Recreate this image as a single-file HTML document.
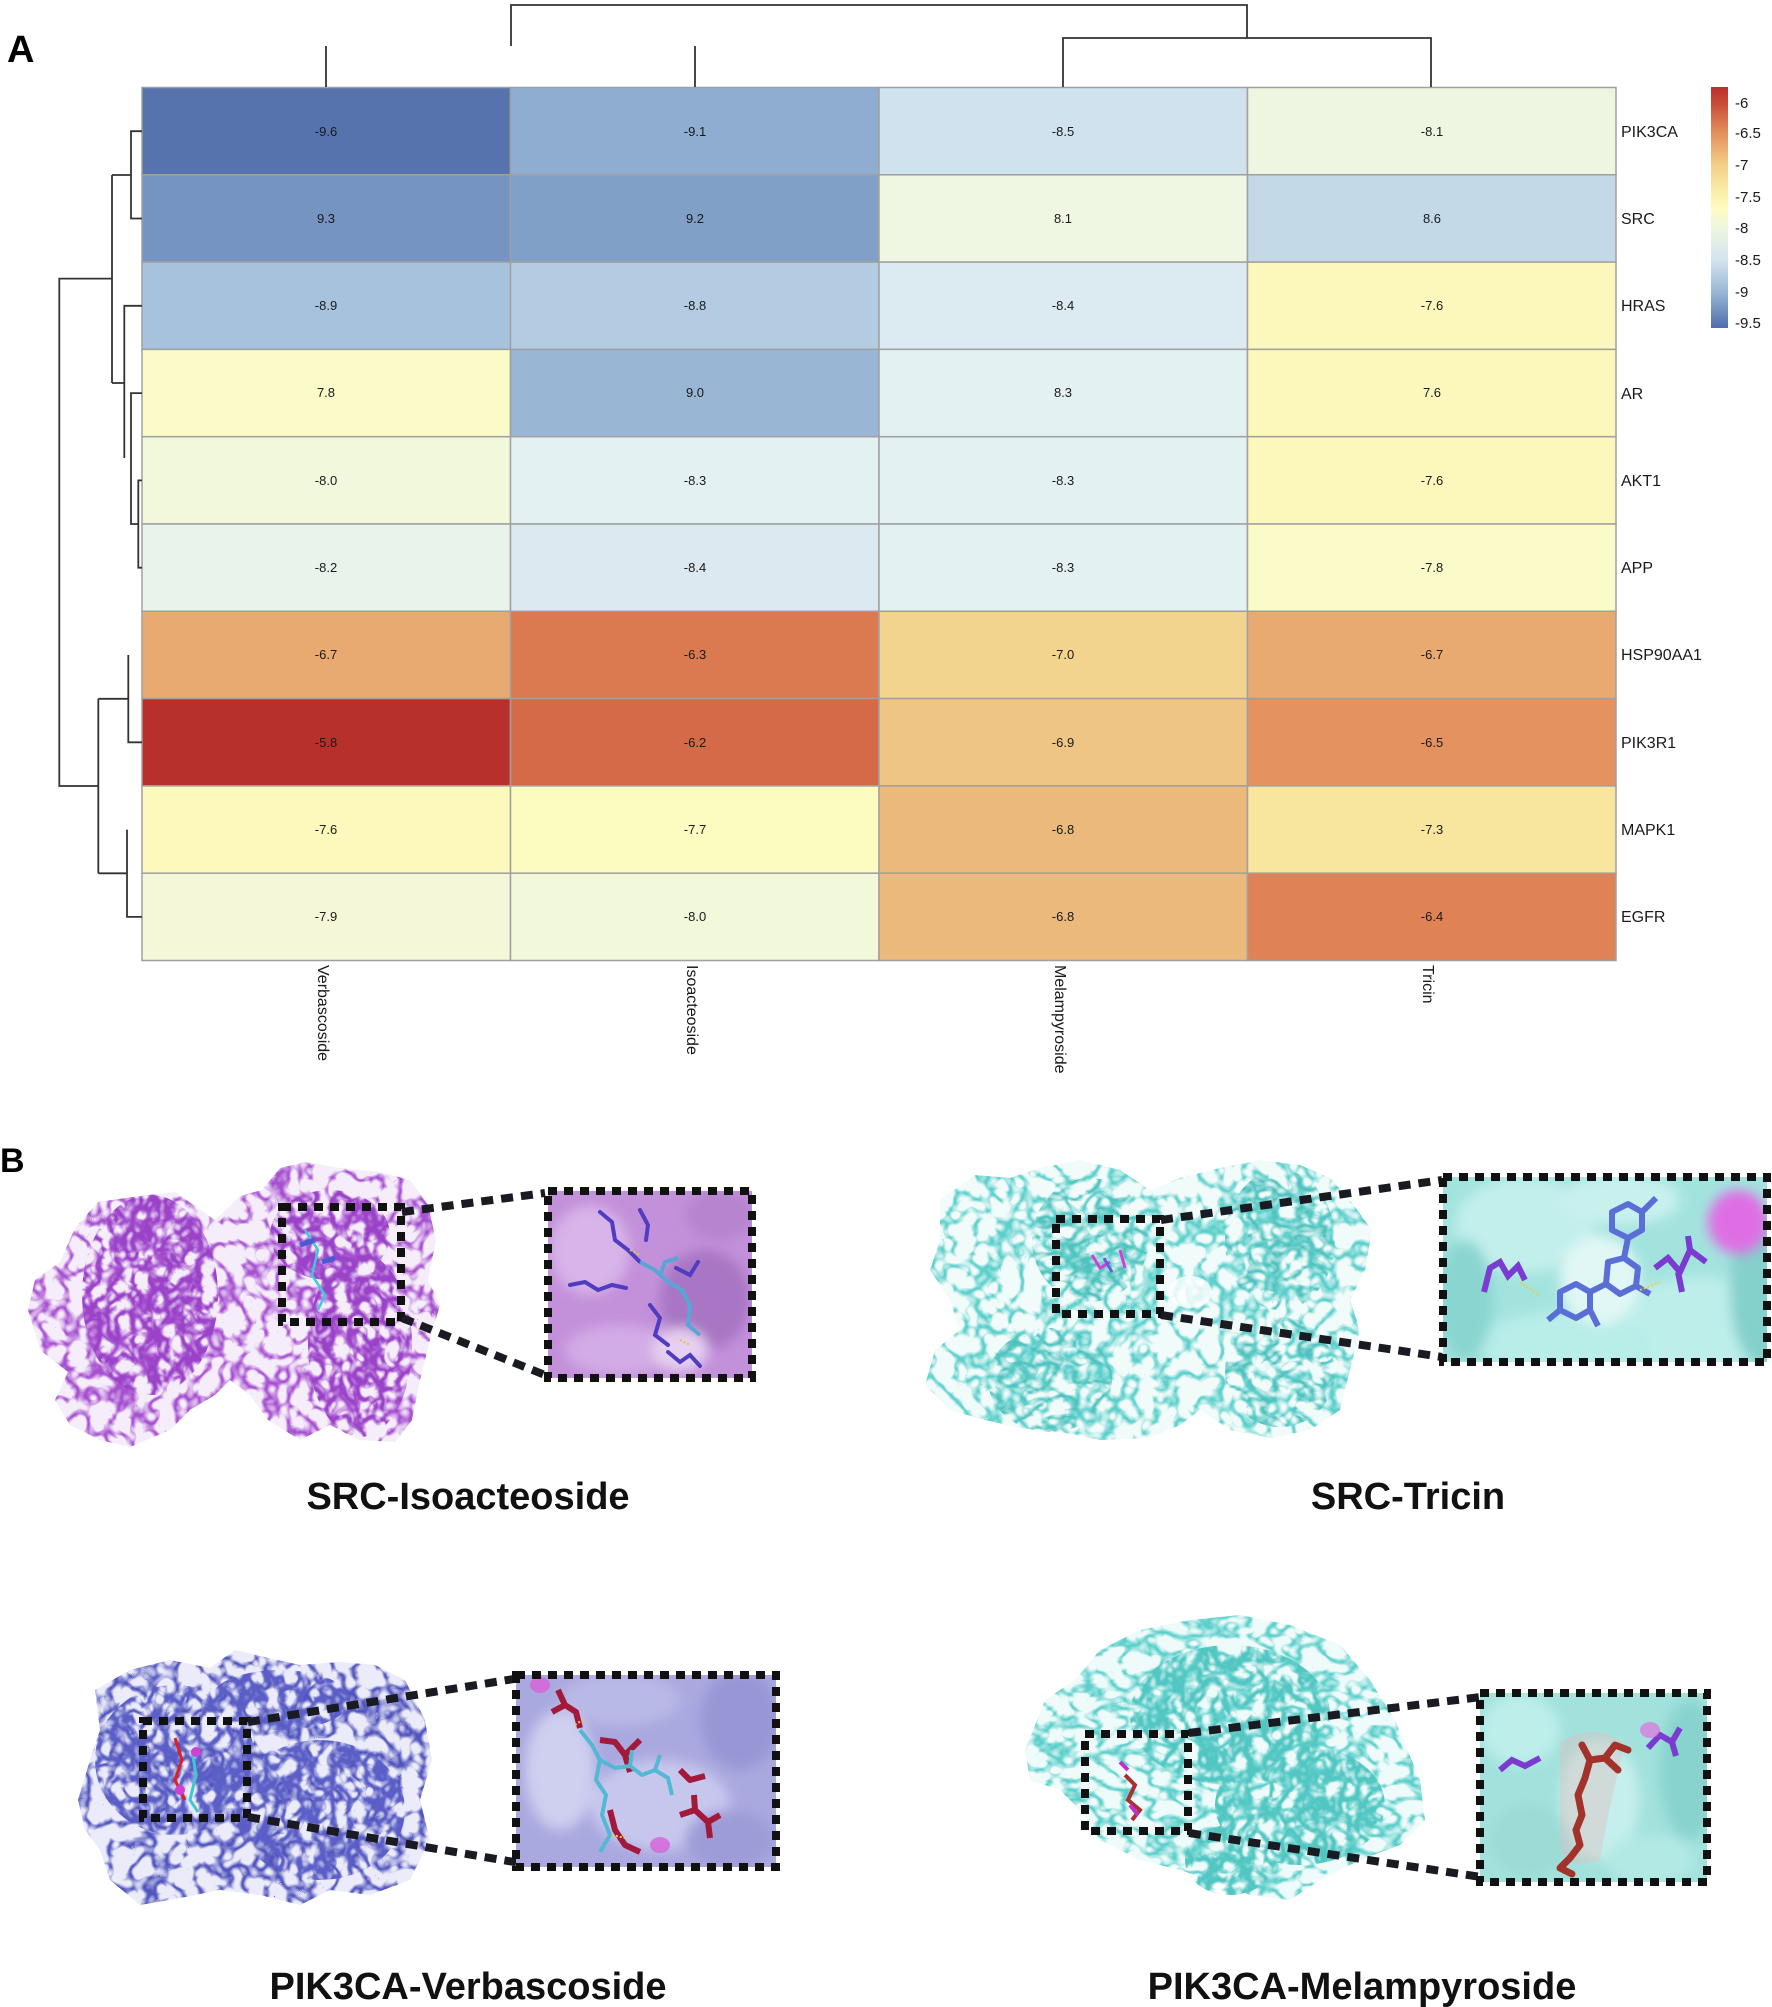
<!DOCTYPE html>
<html><head><meta charset="utf-8"><style>
html,body{margin:0;padding:0;background:#fff;}
svg{display:block;}
text{font-family:"Liberation Sans",Arial,sans-serif;}
</style></head><body>
<svg width="1772" height="2007" viewBox="0 0 1772 2007" xmlns="http://www.w3.org/2000/svg">
<defs>
<linearGradient id="cb" x1="0" y1="0" x2="0" y2="1">
<stop offset="0" stop-color="#b8302b"/><stop offset="0.066" stop-color="#c84a35"/>
<stop offset="0.19" stop-color="#e3905c"/><stop offset="0.324" stop-color="#f4cf88"/>
<stop offset="0.456" stop-color="#fdf3b0"/><stop offset="0.506" stop-color="#fdfcc2"/>
<stop offset="0.585" stop-color="#eef6e0"/><stop offset="0.718" stop-color="#d3e4ef"/>
<stop offset="0.85" stop-color="#9ab7d6"/><stop offset="1" stop-color="#4f6dab"/>
</linearGradient>
<filter id="r1" x="-5%" y="-5%" width="110%" height="110%" color-interpolation-filters="sRGB">
<feTurbulence type="turbulence" baseFrequency="0.045" numOctaves="2" seed="3" result="t"/>
<feColorMatrix in="t" type="matrix" values="0 0 0 0 0 0 0 0 0 0 0 0 0 0 0 -4.5 0 0 0 1.2" result="m"/>
<feComposite in="SourceGraphic" in2="m" operator="in"/>
</filter>
<filter id="r2" x="-5%" y="-5%" width="110%" height="110%" color-interpolation-filters="sRGB">
<feTurbulence type="turbulence" baseFrequency="0.06 0.05" numOctaves="2" seed="11" result="t"/>
<feColorMatrix in="t" type="matrix" values="0 0 0 0 0 0 0 0 0 0 0 0 0 0 0 0 -4 0 0 1.45" result="m"/>
<feComposite in="SourceGraphic" in2="m" operator="in"/>
</filter>
<filter id="r3" x="-5%" y="-5%" width="110%" height="110%" color-interpolation-filters="sRGB">
<feTurbulence type="turbulence" baseFrequency="0.04 0.055" numOctaves="2" seed="21" result="t"/>
<feColorMatrix in="t" type="matrix" values="0 0 0 0 0 0 0 0 0 0 0 0 0 0 0 -4.5 0 0 0 1.2" result="m"/>
<feComposite in="SourceGraphic" in2="m" operator="in"/>
</filter>
<filter id="sf" x="-20%" y="-20%" width="140%" height="140%"><feGaussianBlur stdDeviation="6"/></filter>
<clipPath id="c1"><rect x="548" y="1191" width="204" height="187"/></clipPath>
<clipPath id="c2"><rect x="1443" y="1177" width="324" height="185"/></clipPath>
<clipPath id="c3"><rect x="516" y="1675" width="260" height="192"/></clipPath>
<clipPath id="c4"><rect x="1480" y="1693" width="227" height="189"/></clipPath>
<path id="p1" d="M60,1262 L75,1228 L98,1202 L140,1196 L175,1192 L195,1206 L215,1220 L240,1196 L262,1190 L280,1168 L305,1162 L340,1168 L380,1172 L410,1180 L428,1205 L436,1240 L428,1280 L440,1305 L430,1340 L420,1380 L412,1420 L395,1442 L360,1440 L330,1425 L300,1440 L268,1420 L250,1395 L230,1380 L215,1395 L190,1410 L170,1430 L130,1447 L100,1440 L70,1425 L55,1400 L68,1372 L40,1350 L28,1310 L35,1280 Z"/>
<path id="p2" d="M940,1200 L975,1175 L1010,1178 L1040,1168 L1080,1160 L1120,1170 L1150,1190 L1180,1178 L1220,1168 L1260,1160 L1300,1165 L1330,1178 L1350,1200 L1372,1230 L1365,1270 L1350,1300 L1360,1330 L1350,1370 L1340,1410 L1310,1430 L1270,1438 L1230,1430 L1200,1410 L1180,1425 L1150,1438 L1100,1440 L1060,1432 L1020,1428 L985,1420 L950,1410 L925,1385 L935,1350 L960,1330 L950,1300 L930,1270 L940,1240 Z"/>
<path id="p3" d="M95,1690 L130,1670 L170,1660 L210,1668 L235,1650 L260,1656 L300,1665 L340,1662 L375,1665 L405,1680 L425,1720 L432,1760 L420,1800 L430,1840 L410,1880 L370,1895 L330,1890 L300,1905 L260,1895 L220,1890 L180,1898 L140,1905 L110,1880 L100,1850 L85,1830 L78,1800 L90,1760 L100,1730 Z"/>
<path id="p4" d="M1100,1650 L1140,1630 L1190,1620 L1240,1615 L1290,1625 L1340,1645 L1370,1680 L1395,1720 L1420,1780 L1425,1820 L1400,1845 L1360,1860 L1320,1880 L1290,1900 L1250,1895 L1210,1880 L1180,1870 L1140,1860 L1100,1840 L1080,1810 L1060,1790 L1030,1780 L1025,1750 L1045,1700 L1075,1680 Z"/>
</defs>

<!-- Panel labels -->
<text x="7" y="62" font-size="38" font-weight="bold" fill="#000">A</text>
<text x="0" y="1172" font-size="34" font-weight="bold" fill="#000">B</text>

<!-- Heatmap cells -->
<g stroke="#a0a0a0" stroke-width="1.5">
<rect x="142" y="87.5" width="368.5" height="87.3" fill="#5673ae"/>
<rect x="510.5" y="87.5" width="368.5" height="87.3" fill="#8fadd1"/>
<rect x="879" y="87.5" width="368.5" height="87.3" fill="#d0e2ee"/>
<rect x="1247.5" y="87.5" width="368.5" height="87.3" fill="#eef6e2"/>
<rect x="142" y="174.8" width="368.5" height="87.3" fill="#7594c2"/>
<rect x="510.5" y="174.8" width="368.5" height="87.3" fill="#80a0c7"/>
<rect x="879" y="174.8" width="368.5" height="87.3" fill="#eff7e2"/>
<rect x="1247.5" y="174.8" width="368.5" height="87.3" fill="#c4d9e8"/>
<rect x="142" y="262.1" width="368.5" height="87.3" fill="#a6c2dd"/>
<rect x="510.5" y="262.1" width="368.5" height="87.3" fill="#b3cce1"/>
<rect x="879" y="262.1" width="368.5" height="87.3" fill="#dceaf2"/>
<rect x="1247.5" y="262.1" width="368.5" height="87.3" fill="#fcf8bb"/>
<rect x="142" y="349.4" width="368.5" height="87.3" fill="#fafbc8"/>
<rect x="510.5" y="349.4" width="368.5" height="87.3" fill="#99b6d5"/>
<rect x="879" y="349.4" width="368.5" height="87.3" fill="#e4f1f2"/>
<rect x="1247.5" y="349.4" width="368.5" height="87.3" fill="#fcf8bb"/>
<rect x="142" y="436.7" width="368.5" height="87.3" fill="#f2f8dc"/>
<rect x="510.5" y="436.7" width="368.5" height="87.3" fill="#e4f1f3"/>
<rect x="879" y="436.7" width="368.5" height="87.3" fill="#e4f1f3"/>
<rect x="1247.5" y="436.7" width="368.5" height="87.3" fill="#fcf8bb"/>
<rect x="142" y="524" width="368.5" height="87.3" fill="#e8f3ec"/>
<rect x="510.5" y="524" width="368.5" height="87.3" fill="#dde9f1"/>
<rect x="879" y="524" width="368.5" height="87.3" fill="#e4f1f3"/>
<rect x="1247.5" y="524" width="368.5" height="87.3" fill="#fafbc9"/>
<rect x="142" y="611.3" width="368.5" height="87.3" fill="#e8aa70"/>
<rect x="510.5" y="611.3" width="368.5" height="87.3" fill="#db7a50"/>
<rect x="879" y="611.3" width="368.5" height="87.3" fill="#f2d48e"/>
<rect x="1247.5" y="611.3" width="368.5" height="87.3" fill="#e8aa70"/>
<rect x="142" y="698.6" width="368.5" height="87.3" fill="#b8302b"/>
<rect x="510.5" y="698.6" width="368.5" height="87.3" fill="#d46a48"/>
<rect x="879" y="698.6" width="368.5" height="87.3" fill="#eec584"/>
<rect x="1247.5" y="698.6" width="368.5" height="87.3" fill="#e39260"/>
<rect x="142" y="785.9" width="368.5" height="87.3" fill="#fdf9bd"/>
<rect x="510.5" y="785.9" width="368.5" height="87.3" fill="#fdfcc0"/>
<rect x="879" y="785.9" width="368.5" height="87.3" fill="#ebb97c"/>
<rect x="1247.5" y="785.9" width="368.5" height="87.3" fill="#f8e69e"/>
<rect x="142" y="873.2" width="368.5" height="87.3" fill="#f4f8d8"/>
<rect x="510.5" y="873.2" width="368.5" height="87.3" fill="#f2f8da"/>
<rect x="879" y="873.2" width="368.5" height="87.3" fill="#ebb97c"/>
<rect x="1247.5" y="873.2" width="368.5" height="87.3" fill="#df8356"/>
</g>

<!-- Cell values -->
<g font-size="13" fill="#1a1a1a" text-anchor="middle">
<text x="326" y="136">-9.6</text><text x="695" y="136">-9.1</text><text x="1063" y="136">-8.5</text><text x="1432" y="136">-8.1</text>
<text x="326" y="223">9.3</text><text x="695" y="223">9.2</text><text x="1063" y="223">8.1</text><text x="1432" y="223">8.6</text>
<text x="326" y="310">-8.9</text><text x="695" y="310">-8.8</text><text x="1063" y="310">-8.4</text><text x="1432" y="310">-7.6</text>
<text x="326" y="397">7.8</text><text x="695" y="397">9.0</text><text x="1063" y="397">8.3</text><text x="1432" y="397">7.6</text>
<text x="326" y="485">-8.0</text><text x="695" y="485">-8.3</text><text x="1063" y="485">-8.3</text><text x="1432" y="485">-7.6</text>
<text x="326" y="572">-8.2</text><text x="695" y="572">-8.4</text><text x="1063" y="572">-8.3</text><text x="1432" y="572">-7.8</text>
<text x="326" y="659">-6.7</text><text x="695" y="659">-6.3</text><text x="1063" y="659">-7.0</text><text x="1432" y="659">-6.7</text>
<text x="326" y="747">-5.8</text><text x="695" y="747">-6.2</text><text x="1063" y="747">-6.9</text><text x="1432" y="747">-6.5</text>
<text x="326" y="834">-7.6</text><text x="695" y="834">-7.7</text><text x="1063" y="834">-6.8</text><text x="1432" y="834">-7.3</text>
<text x="326" y="921">-7.9</text><text x="695" y="921">-8.0</text><text x="1063" y="921">-6.8</text><text x="1432" y="921">-6.4</text>
</g>

<!-- Row labels -->
<g font-size="16" fill="#1a1a1a">
<text x="1621" y="137">PIK3CA</text><text x="1621" y="224">SRC</text><text x="1621" y="311">HRAS</text>
<text x="1621" y="399">AR</text><text x="1621" y="486">AKT1</text><text x="1621" y="573">APP</text>
<text x="1621" y="660">HSP90AA1</text><text x="1621" y="748">PIK3R1</text><text x="1621" y="835">MAPK1</text>
<text x="1621" y="922">EGFR</text>
</g>

<!-- Column labels -->
<g font-size="16" fill="#1a1a1a">
<text transform="translate(318,965) rotate(90)">Verbascoside</text>
<text transform="translate(687,965) rotate(90)">Isoacteoside</text>
<text transform="translate(1055,965) rotate(90)">Melampyroside</text>
<text transform="translate(1423,965) rotate(90)">Tricin</text>
</g>

<!-- Dendrograms -->
<g stroke="#333" stroke-width="1.8" fill="none">
<path d="M511,46 V5 H1247 V38"/>
<path d="M1063,87 V38 H1431 V87"/>
<path d="M326,46 V87 M695,46 V87"/>
<path d="M142,131.2 H131 V218.5 H142"/>
<path d="M131,175 H112"/>
<path d="M142,305.8 H124.3 V458"/>
<path d="M142,393.1 H131 V524 H138.3"/>
<path d="M142,480.4 H138.3 V567.7 H142"/>
<path d="M112,383 H124.3"/>
<path d="M112,175 V383"/>
<path d="M112,278.6 H59.3 V786 H98.3"/>
<path d="M98.3,698.8 V873.3"/>
<path d="M98.3,698.8 H128.3 M128.3,655 V742.3 H142"/>
<path d="M98.3,873.3 H127 M127,829.6 V916.9 H142"/>
</g>

<!-- Colorbar -->
<rect x="1711" y="87" width="17" height="241" fill="url(#cb)"/>
<g font-size="15" fill="#1a1a1a">
<text x="1735" y="108">-6</text><text x="1735" y="138">-6.5</text><text x="1735" y="170">-7</text>
<text x="1735" y="202">-7.5</text><text x="1735" y="233">-8</text><text x="1735" y="265">-8.5</text>
<text x="1735" y="297">-9</text><text x="1735" y="328">-9.5</text>
</g>

<!-- ============ Panel B1: SRC-Isoacteoside ============ -->
<g>
<use href="#p1" fill="#f6edfa"/>
<g filter="url(#r1)"><use href="#p1" fill="#a650d0"/></g>
<g filter="url(#r2)">
<ellipse cx="150" cy="1295" rx="68" ry="100" fill="#9a42c8"/>
<ellipse cx="360" cy="1345" rx="52" ry="92" fill="#9a42c8"/>
<ellipse cx="330" cy="1235" rx="60" ry="45" fill="#9a42c8"/>
</g>
<path d="M305,1230 L318,1250 L312,1275 L325,1295 L318,1310" stroke="#40c8d8" stroke-width="2.5" fill="none"/>
<path d="M300,1245 L315,1240 M322,1262 L335,1258" stroke="#4a5ad0" stroke-width="5" fill="none"/>
</g>
<rect x="282" y="1207" width="119" height="115" fill="none" stroke="#111" stroke-width="8" stroke-dasharray="9 7"/>
<path d="M402,1212 L545,1193 M402,1318 L545,1375" stroke="#1a1a22" stroke-width="8" stroke-dasharray="12 8" fill="none"/>
<g clip-path="url(#c1)">
<rect x="548" y="1191" width="204" height="187" fill="#c390da"/>
<g filter="url(#sf)">
<ellipse cx="590" cy="1250" rx="40" ry="45" fill="#d7b4e9"/>
<ellipse cx="705" cy="1300" rx="45" ry="50" fill="#a876c4"/>
<ellipse cx="620" cy="1350" rx="55" ry="25" fill="#d2ace5"/>
<ellipse cx="720" cy="1215" rx="35" ry="25" fill="#b784d0"/>
<ellipse cx="680" cy="1350" rx="28" ry="22" fill="#e6cff0"/>
</g>
<g stroke="#4f3cc0" stroke-width="4" fill="none" stroke-linecap="round">
<path d="M600,1212 L612,1222 L615,1240 L628,1250 L640,1262"/>
<path d="M640,1210 L648,1225 L646,1240"/>
<path d="M570,1285 L585,1282 L598,1290 L612,1285 L626,1288"/>
<path d="M676,1268 L690,1275 L698,1262"/>
<path d="M650,1305 L660,1318 L655,1335 L668,1345"/>
<path d="M668,1352 L680,1362 L690,1355 L700,1366"/>
</g>
<g stroke="#56a7d6" stroke-width="4" fill="none">
<path d="M640,1262 L655,1270 L668,1282 L682,1290 L690,1305 L688,1325 L700,1335"/>
<path d="M660,1276 L665,1262 L678,1258"/>
</g>
<path d="M630,1250 L640,1255 M680,1340 L690,1345" stroke="#e8c040" stroke-width="2" stroke-dasharray="2 2"/>
</g>
<rect x="548" y="1191" width="204" height="187" fill="none" stroke="#111" stroke-width="8" stroke-dasharray="9 7"/>

<!-- ============ Panel B2: SRC-Tricin ============ -->
<g>
<use href="#p2" fill="#f0fbfa"/>
<g filter="url(#r1)"><use href="#p2" fill="#5ccfcb"/></g>
<g filter="url(#r3)">
<ellipse cx="1090" cy="1240" rx="58" ry="62" fill="#4ec2be"/>
<ellipse cx="1280" cy="1240" rx="55" ry="70" fill="#4ec2be"/>
<ellipse cx="1050" cy="1380" rx="62" ry="52" fill="#4ec2be"/>
<ellipse cx="1280" cy="1372" rx="55" ry="55" fill="#4ec2be"/>
</g>
<ellipse cx="1190" cy="1292" rx="22" ry="16" fill="#fff" opacity="0.8"/>
<path d="M1092,1255 L1100,1268 L1110,1262 M1120,1250 L1125,1268" stroke="#d040d8" stroke-width="3" fill="none"/>
<path d="M1104,1258 L1112,1272" stroke="#6a5ad8" stroke-width="3"/>
</g>
<rect x="1056" y="1219" width="104" height="95" fill="none" stroke="#111" stroke-width="8" stroke-dasharray="9 7"/>
<path d="M1161,1220 L1442,1180 M1161,1315 L1442,1357" stroke="#1a1a22" stroke-width="8" stroke-dasharray="12 8" fill="none"/>
<g clip-path="url(#c2)">
<rect x="1443" y="1177" width="324" height="185" fill="#a3e3de"/>
<g filter="url(#sf)">
<ellipse cx="1525" cy="1225" rx="70" ry="48" fill="#c2efeb"/>
<ellipse cx="1700" cy="1325" rx="90" ry="48" fill="#bdeeea"/>
<ellipse cx="1565" cy="1345" rx="85" ry="35" fill="#b8ede8"/>
<ellipse cx="1760" cy="1290" rx="30" ry="75" fill="#84d0cb"/>
<ellipse cx="1465" cy="1300" rx="28" ry="60" fill="#8ad5d0"/>
<ellipse cx="1620" cy="1200" rx="60" ry="25" fill="#c8f1ee"/>
<ellipse cx="1600" cy="1280" rx="40" ry="45" fill="#e0f7f5"/>
</g>
<ellipse cx="1738" cy="1222" rx="30" ry="32" fill="#df6ee4" filter="url(#sf)"/>
<g stroke="#5b6ed6" stroke-width="6" fill="none" stroke-linejoin="round">
<path d="M1612,1212 L1628,1204 L1642,1212 L1642,1230 L1628,1238 L1612,1230 Z"/>
<path d="M1628,1238 L1624,1258"/>
<path d="M1608,1262 L1624,1258 L1638,1268 L1636,1286 L1620,1294 L1606,1284 Z"/>
<path d="M1606,1284 L1590,1292 L1576,1284 L1560,1292 L1560,1310 L1576,1318 L1590,1310 L1590,1292"/>
<path d="M1636,1286 L1650,1294 M1590,1310 L1598,1326 M1560,1310 L1548,1320 M1642,1212 L1656,1198"/>
</g>
<g stroke="#7b3ad0" stroke-width="6" fill="none">
<path d="M1484,1292 L1490,1268 L1500,1262 L1508,1276 L1518,1266 L1525,1280"/>
<path d="M1655,1268 L1668,1258 L1680,1272 L1690,1250 L1706,1262 M1690,1250 L1688,1236 M1678,1272 L1682,1292"/>
</g>
<path d="M1520,1282 L1540,1296 M1640,1290 L1660,1282" stroke="#e8d040" stroke-width="2" stroke-dasharray="2 2"/>
</g>
<path d="M1443,1177 H1767 V1362 H1443 Z" fill="none" stroke="#111" stroke-width="8" stroke-dasharray="9 7"/>

<!-- ============ Panel B3: PIK3CA-Verbascoside ============ -->
<g>
<use href="#p3" fill="#ebebf9"/>
<g filter="url(#r1)"><use href="#p3" fill="#5054bd"/></g>
<g filter="url(#r2)">
<ellipse cx="175" cy="1760" rx="80" ry="75" fill="#5a5ec6"/>
<ellipse cx="320" cy="1810" rx="85" ry="70" fill="#5a5ec6"/>
<ellipse cx="280" cy="1700" rx="70" ry="30" fill="#5a5ec6"/>
</g>
<path d="M175,1738 L182,1760 L175,1780 L185,1800" stroke="#e02020" stroke-width="3" fill="none"/>
<path d="M192,1750 L196,1775 L190,1800 L198,1812" stroke="#40c8d0" stroke-width="3" fill="none"/>
<ellipse cx="196" cy="1752" rx="5" ry="5" fill="#d040d0"/>
<ellipse cx="180" cy="1790" rx="5" ry="5" fill="#d040d0"/>
</g>
<rect x="143" y="1721" width="104" height="97" fill="none" stroke="#111" stroke-width="8" stroke-dasharray="9 7"/>
<path d="M248,1722 L520,1678 M248,1817 L520,1863" stroke="#1a1a22" stroke-width="8" stroke-dasharray="12 8" fill="none"/>
<g clip-path="url(#c3)">
<rect x="516" y="1675" width="260" height="192" fill="#aaa9df"/>
<g filter="url(#sf)">
<ellipse cx="560" cy="1770" rx="35" ry="60" fill="#cfcff0"/>
<ellipse cx="660" cy="1805" rx="70" ry="45" fill="#c7c7ee"/>
<ellipse cx="740" cy="1720" rx="40" ry="50" fill="#9897d6"/>
<ellipse cx="620" cy="1700" rx="60" ry="25" fill="#b9b9e6"/>
<ellipse cx="730" cy="1840" rx="45" ry="30" fill="#9d9cd8"/>
</g>
<ellipse cx="540" cy="1685" rx="10" ry="8" fill="#d860d8" opacity="0.8"/>
<ellipse cx="660" cy="1845" rx="10" ry="8" fill="#d860d8" opacity="0.8"/>
<g stroke="#a2193a" stroke-width="6" fill="none" stroke-linejoin="round">
<path d="M558,1690 L565,1705 L576,1712 L580,1728 M565,1705 L552,1712"/>
<path d="M600,1740 L615,1742 L625,1755 L640,1740 M625,1755 L630,1772"/>
<path d="M680,1770 L690,1780 L705,1776"/>
<path d="M610,1810 L615,1830 L625,1845 L640,1852"/>
<path d="M680,1815 L695,1810 L708,1822 L720,1815 M695,1810 L694,1795 M708,1822 L710,1838"/>
</g>
<g stroke="#52b8d4" stroke-width="4" fill="none" stroke-linejoin="round">
<path d="M580,1730 L592,1745 L600,1760 L596,1780 L606,1795 L602,1815 L610,1835 L600,1852"/>
<path d="M600,1760 L615,1768 L630,1766 L642,1775 L655,1770 L668,1778 L672,1795"/>
<path d="M630,1766 L632,1750 M655,1770 L660,1755"/>
</g>
<path d="M575,1725 L585,1718 M612,1835 L625,1838" stroke="#e8d040" stroke-width="2" stroke-dasharray="2 2"/>
</g>
<rect x="516" y="1675" width="260" height="192" fill="none" stroke="#111" stroke-width="8" stroke-dasharray="9 7"/>

<!-- ============ Panel B4: PIK3CA-Melampyroside ============ -->
<g>
<use href="#p4" fill="#eefbfa"/>
<g filter="url(#r3)"><use href="#p4" fill="#5ccfcb"/></g>
<g filter="url(#r2)">
<ellipse cx="1230" cy="1715" rx="100" ry="70" fill="#52c6c2"/>
<ellipse cx="1300" cy="1805" rx="85" ry="60" fill="#52c6c2"/>
<ellipse cx="1230" cy="1860" rx="45" ry="35" fill="#52c6c2"/>
</g>
<path d="M1125,1775 L1135,1785 L1128,1800 L1140,1810 L1132,1820" stroke="#a83030" stroke-width="4" fill="none"/>
<path d="M1120,1762 L1128,1770 M1130,1805 L1138,1815" stroke="#c030d0" stroke-width="4"/>
</g>
<rect x="1085" y="1734" width="103" height="97" fill="none" stroke="#111" stroke-width="8" stroke-dasharray="9 7"/>
<path d="M1189,1733 L1481,1697 M1189,1833 L1481,1877" stroke="#1a1a22" stroke-width="8" stroke-dasharray="12 8" fill="none"/>
<g clip-path="url(#c4)">
<rect x="1480" y="1693" width="227" height="189" fill="#a2e1dc"/>
<g filter="url(#sf)">
<ellipse cx="1520" cy="1730" rx="40" ry="35" fill="#bdeeea"/>
<ellipse cx="1690" cy="1770" rx="30" ry="70" fill="#88d3ce"/>
<ellipse cx="1600" cy="1800" rx="40" ry="60" fill="#c4efec"/>
<ellipse cx="1530" cy="1840" rx="40" ry="35" fill="#9bdcd7"/>
<ellipse cx="1650" cy="1860" rx="45" ry="25" fill="#b3e9e5"/>
</g>
<path d="M1560,1742 Q1600,1720 1625,1745 Q1610,1800 1600,1860 Q1570,1870 1560,1850 Z" fill="#e8b8b8" opacity="0.35"/>
<g stroke="#a3322a" stroke-width="7" fill="none" stroke-linejoin="round" stroke-linecap="round">
<path d="M1582,1745 L1590,1760 L1585,1778 L1578,1795 L1582,1815 L1576,1830 L1580,1845 L1570,1858"/>
<path d="M1590,1760 L1605,1758 L1618,1770 M1605,1758 L1615,1745 L1628,1750"/>
<path d="M1570,1858 L1560,1868 L1572,1874"/>
</g>
<g stroke="#7b3ad0" stroke-width="6" fill="none">
<path d="M1500,1770 L1512,1760 L1525,1766 L1540,1758"/>
<path d="M1648,1748 L1660,1735 L1672,1742 L1680,1728 M1672,1742 L1676,1756"/>
</g>
<ellipse cx="1650" cy="1730" rx="10" ry="8" fill="#e070e0" opacity="0.7"/>
</g>
<rect x="1480" y="1693" width="227" height="189" fill="none" stroke="#111" stroke-width="8" stroke-dasharray="9 7"/>

<!-- Titles -->
<g font-size="38" font-weight="bold" fill="#111" text-anchor="middle">
<text x="468" y="1509">SRC-Isoacteoside</text>
<text x="1408" y="1509">SRC-Tricin</text>
<text x="468" y="1999">PIK3CA-Verbascoside</text>
<text x="1362" y="1999">PIK3CA-Melampyroside</text>
</g>
</svg>
</body></html>
